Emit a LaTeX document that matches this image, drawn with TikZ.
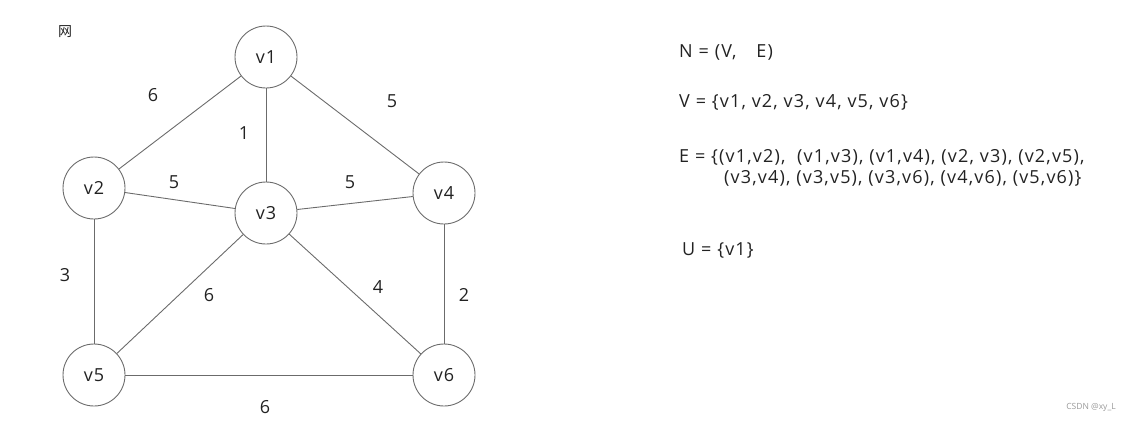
\documentclass[tikz,border=0pt]{standalone}
\usepackage{fontspec}
\setmainfont{Open Sans}
\newfontfamily\cjk{Noto Sans CJK SC}
\newfontfamily\wide[LetterSpace=6.5]{Open Sans}
\definecolor{edgegray}{HTML}{6B6B6B}
\definecolor{txt}{HTML}{222222}
\definecolor{wm}{HTML}{9A9A9A}
\begin{document}
\begin{tikzpicture}[x=1pt,y=-1pt,
  vertex/.style={circle,draw=edgegray,line width=0.9pt,minimum size=62pt,inner sep=0pt,text=txt,font=\wide\fontsize{18}{20}\selectfont},
  edge/.style={draw=edgegray,line width=0.9pt},
  wlabel/.style={text=txt,font=\fontsize{18}{20}\selectfont,inner sep=0pt},
  settext/.style={text=txt,font=\wide\fontsize{18}{22}\selectfont,inner sep=0pt,anchor=west,align=left}]
\useasboundingbox (0,0) rectangle (1134,421);
\node[text=txt,font=\cjk\fontsize{14}{15}\selectfont,inner sep=0pt] (title) at (65,32) {网};
\node[vertex] (v1) at (266,57) {v1};
\node[vertex] (v2) at (94,188) {v2};
\node[vertex] (v3) at (266,213) {v3};
\node[vertex] (v4) at (444,193) {v4};
\node[vertex] (v5) at (94,375) {v5};
\node[vertex] (v6) at (444,375) {v6};
\draw[edge] (v1) -- (v2);
\draw[edge] (v1) -- (v3);
\draw[edge] (v1) -- (v4);
\draw[edge] (v2) -- (v3);
\draw[edge] (v2) -- (v5);
\draw[edge] (v3) -- (v4);
\draw[edge] (v3) -- (v5);
\draw[edge] (v3) -- (v6);
\draw[edge] (v4) -- (v6);
\draw[edge] (v5) -- (v6);
\node[wlabel] (l12) at (153,95) {6};
\node[wlabel] (l13) at (244,133) {1};
\node[wlabel] (l14) at (392,101) {5};
\node[wlabel] (l23) at (174,182) {5};
\node[wlabel] (l34) at (350,182) {5};
\node[wlabel] (l25) at (65,275) {3};
\node[wlabel] (l35) at (209,295) {6};
\node[wlabel] (l36) at (378,287) {4};
\node[wlabel] (l46) at (464,295) {2};
\node[wlabel] (l56) at (265,407) {6};
\node[settext] (N) at (679,52) {N = (V,\hspace{1.1em}E)};
\node[settext] (V) at (679,102) {V = \{v1, v2, v3, v4, v5, v6\}};
\node[settext] (E1) at (679,157) {E = \{(v1,v2),\ \ (v1,v3), (v1,v4), (v2, v3), (v2,v5),};
\node[settext] (E2) at (724,178) {(v3,v4), (v3,v5), (v3,v6), (v4,v6), (v5,v6)\}};
\node[settext] (U) at (682,250) {U = \{v1\}};
\node[text=wm,font=\fontsize{8.5}{9}\selectfont,inner sep=0pt] (mark) at (1091,407) {CSDN @xy\_L};
\end{tikzpicture}
\end{document}
